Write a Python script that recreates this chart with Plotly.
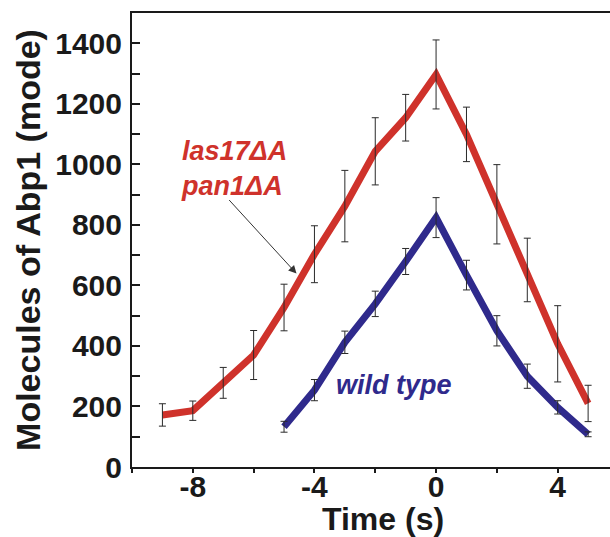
import plotly.graph_objects as go

# Data
t_mut = [-9, -8, -7, -6, -5, -4, -3, -2, -1, 0, 1, 2, 3, 4, 5]
mut_mean = [172, 186, 278, 370, 527, 703, 862, 1043, 1154, 1297, 1099, 868, 651, 407, 210]
mut_err = [37, 32, 51, 81, 77, 94, 118, 111, 77, 114, 90, 131, 105, 126, 60]

t_wt = [-5, -4, -3, -2, -1, 0, 1, 2, 3, 4, 5]
wt_mean = [133, 254, 412, 539, 679, 824, 634, 450, 300, 197, 108]
wt_err = [18, 35, 37, 42, 43, 66, 49, 50, 40, 22, 8]

x_tickvals = [-8, -4, 0, 4]
x_ticktext = ["-8", "-4", "0", "4"]
y_tickvals = [0, 200, 400, 600, 800, 1000, 1200, 1400]

RED = "#cf322b"
BLUE = "#2f2a8c"
ERR = "#2a2a2a"
INK = "#1a1a1a"
FONT = "Liberation Sans"

fig = go.Figure()

fig.add_trace(go.Scatter(x=t_mut, y=mut_mean, mode="lines",
                         line=dict(color=RED, width=7), showlegend=False,
                         name="las17ΔA pan1ΔA"))
fig.add_trace(go.Scatter(x=t_wt, y=wt_mean, mode="lines",
                         line=dict(color=BLUE, width=7), showlegend=False,
                         name="wild type"))
# error bars on top of the lines
for xs, ys, es in [(t_mut, mut_mean, mut_err), (t_wt, wt_mean, wt_err)]:
    fig.add_trace(go.Scatter(x=xs, y=ys, mode="markers",
                             marker=dict(size=1, color="rgba(0,0,0,0)"),
                             error_y=dict(type="data", array=es, visible=True,
                                          color=ERR, thickness=1, width=3.5),
                             showlegend=False, hoverinfo="skip"))

fig.add_annotation(x=-8.45, y=985, xref="x", yref="y", xanchor="left", yanchor="middle",
                   text="<b><i>las17ΔA<br>pan1ΔA</i></b>", showarrow=False, align="left",
                   font=dict(family=FONT, size=27, color=RED))
fig.add_annotation(x=-1.37, y=272, xref="x", yref="y", xanchor="center", yanchor="middle",
                   text="<b><i>wild type</i></b>", showarrow=False,
                   font=dict(family=FONT, size=27, color=BLUE))
fig.add_annotation(x=-4.59, y=639, ax=-6.85, ay=887, xref="x", yref="y",
                   axref="x", ayref="y", text="", showarrow=True,
                   arrowhead=2, arrowsize=1.6, arrowwidth=1, arrowcolor="#333333")
# x-axis title
fig.add_annotation(x=0.525, y=-0.115, xref="paper", yref="paper",
                   xanchor="center", yanchor="middle", showarrow=False,
                   text="<b>Time (s)</b>", font=dict(family=FONT, size=32, color=INK))

fig.update_layout(
    width=610, height=537,
    margin=dict(l=132, r=0, t=13, b=70),
    plot_bgcolor="white", paper_bgcolor="white",
    font=dict(family=FONT, size=30, color=INK),
    xaxis=dict(range=[-10, 5.72], tickvals=x_tickvals, ticktext=x_ticktext,
               ticks="outside", ticklen=4, tickwidth=2, tickcolor=INK,
               minor=dict(dtick=2, tick0=0, ticks="outside", ticklen=4, tickwidth=2,
                          tickcolor=INK),
               showline=True, linewidth=2, linecolor=INK, mirror=True,
               showgrid=False, zeroline=False, ticklabelstandoff=-12,
               tickfont=dict(family=FONT, size=30, weight="bold")),
    yaxis=dict(range=[0, 1500], tickvals=y_tickvals,
               ticks="inside", ticklen=8, tickwidth=2, tickcolor=INK,
               minor=dict(dtick=100, tick0=0, ticks="inside", ticklen=8, tickwidth=2,
                          tickcolor=INK),
               showline=True, linewidth=2, linecolor=INK, mirror=False,
               showgrid=False, zeroline=False,
               tickfont=dict(family=FONT, size=30, weight="bold"),
               ticklabelstandoff=2,
               title=dict(text="<b>Molecules of Abp1 (mode)</b>", standoff=4,
                          font=dict(family=FONT, size=34))),
)

fig.write_html("out.html")
